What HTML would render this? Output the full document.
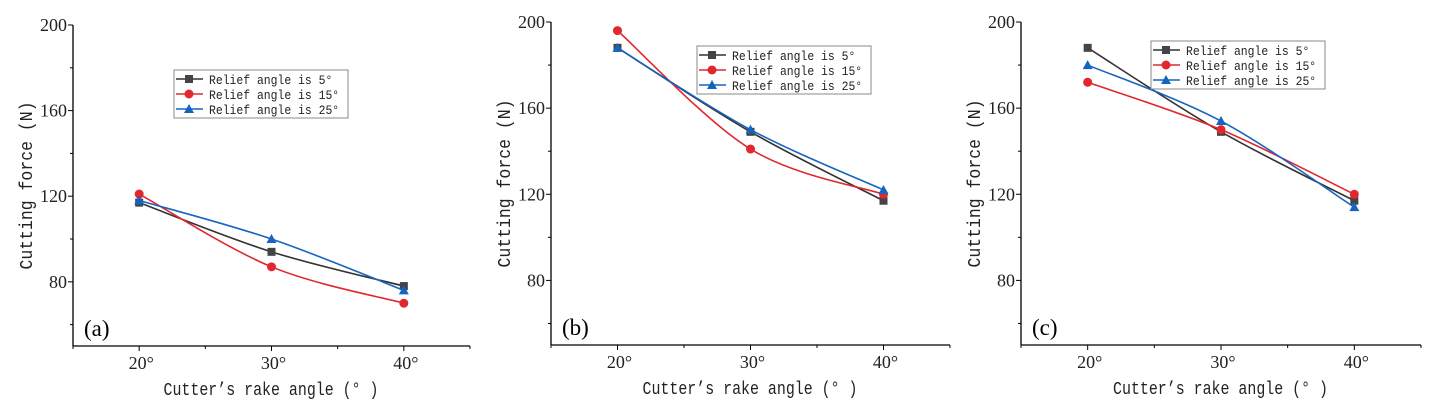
<!DOCTYPE html>
<html><head><meta charset="utf-8"><style>
body{margin:0;background:#fff;}
svg{display:block;}
</style></head><body>
<svg id="chart" width="1437" height="413" viewBox="0 0 1437 413" xmlns="http://www.w3.org/2000/svg"></svg>
<script>
const categories = [20, 30, 40];
const seriesNames = ["Relief angle is 5°", "Relief angle is 15°", "Relief angle is 25°"];
const panelA5 = [117, 94, 78];
const panelA15 = [121, 87, 70];
const panelA25 = [118, 100, 76];
const panelB5 = [188, 149, 117];
const panelB15 = [196, 141, 120];
const panelB25 = [188, 150, 122];
const panelC5 = [188, 149, 117];
const panelC15 = [172, 150, 120];
const panelC25 = [180, 154, 114];
const yTickLabels = [80, 120, 160, 200];
const yMinorTicks = [60, 100, 140, 180];
const panelLabels = ["(a)", "(b)", "(c)"];

const NS = "http://www.w3.org/2000/svg";
const svg = document.getElementById("chart");
const colors = ["#333333", "#e0282e", "#1565c0"];
function mk(tag, attrs, parent){const e=document.createElementNS(NS,tag);for(const k in attrs)e.setAttribute(k,attrs[k]);(parent||svg).appendChild(e);return e;}

const panels = [
 {L:73, R:470, T:25, B:346, data:[panelA5,panelA15,panelA25], leg:[174,70], label:panelLabels[0], name:"panel-a"},
 {L:551, R:950, T:22, B:345, data:[panelB5,panelB15,panelB25], leg:[697,46], label:panelLabels[1], name:"panel-b"},
 {L:1021, R:1421, T:22, B:345, data:[panelC5,panelC15,panelC25], leg:[1151,41], label:panelLabels[2], name:"panel-c"}
];

function marker(g, i, x, y){
  const c = colors[i];
  let m;
  if(i===0) m = mk("rect",{x:x-4,y:y-4,width:8,height:8,fill:"#444"},g);
  else if(i===1) m = mk("circle",{cx:x,cy:y,r:4.5,fill:c},g);
  else m = mk("polygon",{points:`${x},${y-5} ${x+5},${y+4} ${x-5},${y+4}`,fill:c},g);
  
  
}

function smoothPath(pts){
  let d=`M${pts[0][0]},${pts[0][1]}`;
  for(let i=0;i<pts.length-1;i++){
    const p0=pts[i-1]||pts[i], p1=pts[i], p2=pts[i+1], p3=pts[i+2]||p2;
    const c1=[p1[0]+(p2[0]-p0[0])/6, p1[1]+(p2[1]-p0[1])/6];
    const c2=[p2[0]-(p3[0]-p1[0])/6, p2[1]-(p3[1]-p1[1])/6];
    d+=` C${c1[0]},${c1[1]} ${c2[0]},${c2[1]} ${p2[0]},${p2[1]}`;
  }
  return d;
}

panels.forEach(p=>{
  const g = mk("g",{});
  
  
  const xs = v => p.L + (v-15)/30*(p.R-p.L);
  const ys = v => p.B - (v-50)/150*(p.B-p.T);
  const ya = mk("line",{x1:p.L,y1:p.T,x2:p.L,y2:p.B,stroke:"#000","stroke-width":1.3},g);
   
  const xa = mk("line",{x1:p.L,y1:p.B,x2:p.R,y2:p.B,stroke:"#000","stroke-width":1.3},g);
   
  yTickLabels.forEach(v=>{
    mk("line",{x1:p.L-5,y1:ys(v),x2:p.L,y2:ys(v),stroke:"#000"},g);
    const t = mk("text",{x:p.L-6,y:ys(v)+6,"text-anchor":"end","font-family":"Liberation Serif, serif","font-size":18,fill:"#222"},g);
    t.textContent = v;
     
  });
  yMinorTicks.forEach(v=>mk("line",{x1:p.L-3,y1:ys(v),x2:p.L,y2:ys(v),stroke:"#000"},g));
  [15,20,25,30,35,40,45].forEach(v=>mk("line",{x1:xs(v),y1:p.B,x2:xs(v),y2:p.B+(v%10===0?5:3),stroke:"#000"},g));
  categories.forEach(v=>{
    const t = mk("text",{x:xs(v)+2,y:p.B+23,"text-anchor":"middle","font-family":"Liberation Serif, serif","font-size":18,fill:"#222"},g);
    t.textContent = v+"°";
     
  });
  const xt = mk("text",{x:(p.L+p.R)/2-108,y:p.B+49,"font-family":"Liberation Mono, monospace","font-size":18,fill:"#222",textLength:215,lengthAdjust:"spacingAndGlyphs"},g);
  xt.textContent = "Cutter’s rake angle (° )";
   
  const yt = mk("text",{x:0,y:0,"text-anchor":"middle","font-family":"Liberation Mono, monospace","font-size":18,fill:"#222",textLength:168,lengthAdjust:"spacingAndGlyphs",transform:`translate(${p.L-41},${(p.T+p.B)/2}) rotate(-90)`},g);
  yt.textContent = "Cutting force (N)";
   
  const pl = mk("text",{x:p.L+11,y:p.B-10,"font-family":"Liberation Serif, serif","font-size":23,fill:"#000"},g);
  pl.textContent = p.label;
   
  p.data.forEach((arr,i)=>{
    const pts = categories.map((c,j)=>[xs(c),ys(arr[j])]);
    const path = mk("path",{d:smoothPath(pts),fill:"none",stroke:colors[i],"stroke-width":1.6},g);
     
    pts.forEach(pt=>marker(g,i,pt[0],pt[1]));
  });
  const lg = mk("g",{},g);
   
  const [lx,ly]=p.leg;
  mk("rect",{x:lx,y:ly,width:174,height:48,fill:"#fff",stroke:"#888","stroke-width":1},lg);
  seriesNames.forEach((n,i)=>{
    const yy = ly+9+i*15;
    mk("line",{x1:lx+2,y1:yy,x2:lx+29,y2:yy,stroke:colors[i],"stroke-width":1.6},lg);
    marker(lg,i,lx+15,yy);
    const t = mk("text",{x:lx+35,y:yy+5,"font-family":"Liberation Mono, monospace","font-size":13,fill:"#222",textLength:n.length*6.85,lengthAdjust:"spacingAndGlyphs"},lg);
    t.textContent = n;
     
  });
});
</script>
</body></html>
